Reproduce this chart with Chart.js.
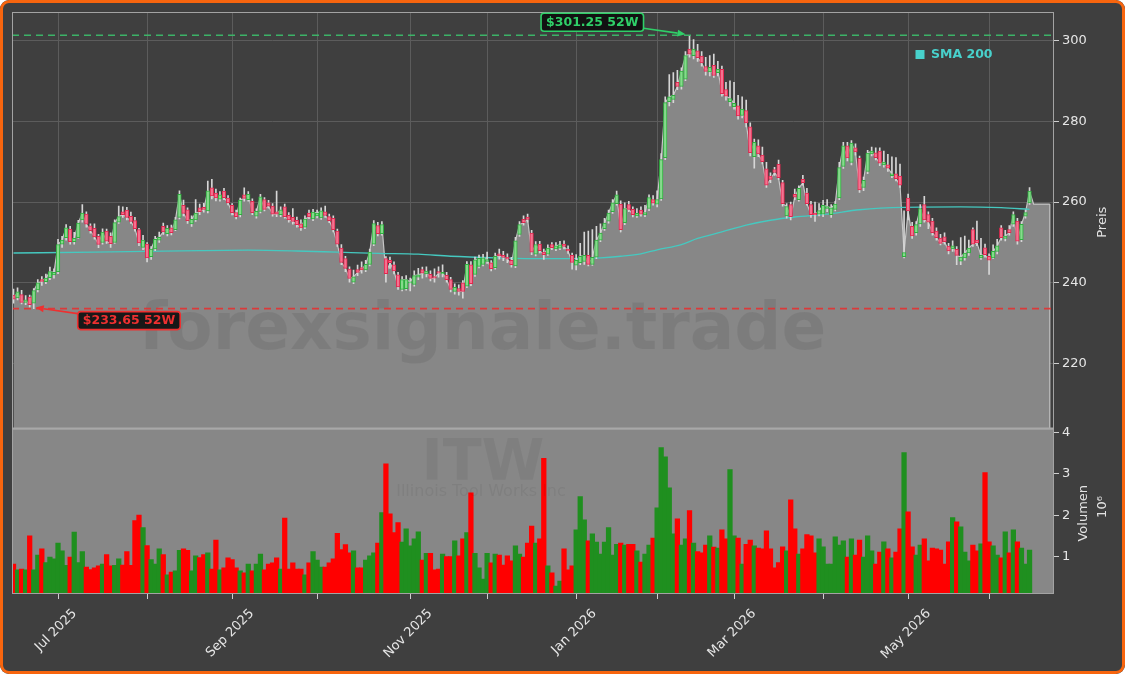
<!DOCTYPE html>
<html><head><meta charset="utf-8">
<script src="https://cdn.jsdelivr.net/npm/chart.js@4.4.1/dist/chart.umd.min.js"></script>
<style>
html,body{margin:0;padding:0;background:#ffffff;}
#wrap{position:relative;width:1125px;height:674px;border-radius:9px;overflow:hidden;}
#c{position:absolute;left:0;top:0;}
#frame{position:absolute;left:0;top:0;width:1125px;height:674px;box-sizing:border-box;border:3px solid #f8650e;border-radius:9px;pointer-events:none;}
</style></head><body>
<div id="wrap"><canvas id="c" width="1125" height="674"></canvas><div id="frame"></div></div>
<script>
// ---- data (one entry per trading day) ----
const opens = [
237.0,236.3,237.1,235.2,236.5,235.0,238.3,240.8,240.3,241.3,
242.0,242.8,249.6,251.2,253.3,250.2,251.2,255.6,257.0,254.1,
253.5,251.5,250.0,252.8,251.5,250.0,255.0,257.6,258.0,256.5,
255.4,253.2,248.8,249.6,246.5,248.4,250.6,254.0,252.2,253.6,
253.2,256.2,259.2,258.1,254.6,255.6,258.6,258.7,257.8,263.5,
262.2,260.7,262.7,261.0,259.2,257.4,256.9,261.8,260.6,260.2,
256.5,257.7,260.6,259.8,259.0,257.6,256.9,258.8,256.7,256.2,
255.5,254.6,253.8,257.3,255.8,256.6,256.1,257.6,256.4,256.0,
252.8,248.6,246.0,243.4,240.2,243.3,243.8,243.2,244.6,249.6,
254.2,252.2,246.0,245.6,244.5,242.0,238.4,238.6,240.0,239.6,
241.4,243.3,242.2,242.1,241.6,242.8,242.2,241.9,240.8,237.9,
238.6,240.0,239.2,244.5,242.1,244.1,244.6,245.3,245.0,243.8,
247.2,246.8,246.4,245.6,244.2,252.0,255.7,256.3,252.3,247.1,
249.6,247.6,247.1,249.5,248.4,248.6,249.6,248.3,246.8,244.4,
245.0,245.3,246.8,244.6,246.4,250.6,253.4,255.3,257.6,259.6,
259.5,254.9,259.4,258.2,256.6,258.0,256.8,258.4,260.6,259.5,
260.8,271.0,284.8,285.4,289.6,288.6,290.4,297.8,296.2,297.4,
296.1,293.5,292.2,293.8,292.0,292.8,287.8,284.8,283.6,283.8,
281.4,282.6,278.6,271.2,273.9,271.6,268.2,266.4,268.0,269.3,
264.8,256.6,259.4,261.9,260.6,265.6,262.2,259.4,257.2,257.0,
257.0,258.4,256.9,258.2,261.0,268.8,273.9,269.8,273.4,270.8,
263.6,267.6,271.9,272.2,272.6,269.2,269.2,266.5,267.0,266.4,
246.5,261.0,254.0,252.4,254.6,259.4,256.9,255.3,252.8,251.1,
251.4,249.1,248.4,248.3,245.4,246.2,247.4,253.2,250.6,246.2,
248.7,246.6,246.2,247.8,253.6,251.0,253.2,254.5,255.3,250.7,
256.5,259.8];
const highs = [
238.5,238.8,238.2,236.9,237.0,238.6,240.8,241.6,242.2,243.9,
243.5,250.8,251.5,254.4,254.0,252.5,255.5,259.4,257.6,254.6,
254.6,252.0,253.4,253.3,252.4,255.6,259.0,258.8,258.7,257.5,
256.2,253.5,251.8,250.0,249.0,251.5,252.6,254.8,254.2,254.3,
256.2,262.8,260.5,258.6,256.6,260.6,259.5,259.7,265.2,265.6,
263.2,262.6,263.4,261.6,259.6,258.0,261.0,263.5,262.6,260.8,
258.3,261.9,261.1,260.4,259.6,262.7,258.8,259.5,257.4,258.4,
256.3,255.6,256.6,258.0,258.2,258.0,258.6,259.0,257.0,256.6,
253.3,249.5,246.6,244.0,243.2,244.4,245.2,245.6,248.4,255.4,
255.0,255.2,246.5,246.4,245.2,242.6,241.6,241.8,241.2,243.0,
243.6,243.9,244.0,243.0,243.5,244.0,244.5,242.6,241.4,239.8,
239.5,240.6,245.3,245.3,246.4,246.9,247.1,247.6,245.5,247.4,
248.4,247.8,247.2,246.3,251.3,255.2,256.6,257.0,253.0,250.2,
250.3,248.4,249.4,250.0,250.0,250.3,250.4,249.2,247.4,247.0,
249.8,252.6,252.8,253.2,254.0,254.6,256.0,258.0,260.6,262.7,
260.3,259.8,260.2,258.8,258.4,258.8,259.2,261.8,261.6,262.8,
272.0,286.0,291.5,292.0,292.6,293.2,297.2,301.25,300.2,299.0,
297.2,295.8,296.2,296.6,294.8,293.6,289.6,290.0,289.6,286.4,
286.0,285.2,279.6,275.6,275.4,273.6,269.8,267.2,268.6,270.4,
265.4,259.6,260.0,263.2,264.0,266.6,263.4,260.2,260.0,259.6,
260.4,260.6,259.4,260.2,269.8,274.8,274.8,275.2,274.4,271.4,
266.2,272.8,273.6,273.4,273.4,272.6,271.8,271.2,271.0,269.4,
257.8,262.0,255.0,255.2,259.4,261.4,257.6,256.0,253.6,252.0,
252.4,249.8,250.4,249.0,251.2,251.6,250.6,253.6,255.3,251.0,
249.6,247.2,249.4,250.8,254.2,253.0,254.2,257.6,256.0,255.2,
258.0,263.6];
const lows = [
235.0,235.8,234.8,234.6,234.0,233.65,237.8,239.4,239.8,240.8,
241.2,242.3,248.8,250.6,249.6,249.6,251.0,255.0,253.8,252.3,
250.8,248.7,249.6,249.8,248.8,249.8,254.7,256.2,255.6,254.7,
252.8,249.2,248.2,245.2,245.8,248.0,250.0,252.0,251.6,251.9,
252.9,255.8,256.6,254.7,254.0,255.2,256.9,257.5,257.3,260.8,
260.3,260.2,260.6,259.3,256.8,255.8,256.3,260.2,260.2,256.9,
256.0,257.3,257.8,258.5,256.5,256.4,256.4,256.0,255.0,254.5,
253.8,253.0,253.4,255.9,255.4,256.1,255.7,256.2,254.9,252.6,
249.0,244.5,242.8,240.2,239.8,241.8,242.4,242.8,244.2,249.2,
251.6,251.8,240.2,243.6,242.2,238.4,238.0,238.2,238.0,239.2,
240.8,241.2,241.5,240.5,240.2,241.4,241.5,240.2,237.8,237.2,
237.0,236.2,238.8,239.3,241.6,243.7,244.2,244.8,243.0,243.4,
245.9,245.5,245.0,243.9,243.8,251.5,254.3,255.0,247.0,246.7,
247.4,245.8,246.8,248.2,248.0,248.2,248.4,247.3,243.4,243.2,
244.5,244.6,244.2,244.3,246.0,250.2,253.0,254.8,257.2,259.2,
252.6,254.4,257.6,256.3,256.2,256.5,256.4,257.9,259.2,258.8,
260.4,270.5,283.8,284.6,287.8,287.9,290.0,295.8,295.4,294.8,
293.6,291.4,291.2,290.8,291.2,286.2,285.2,283.8,283.0,280.5,
280.8,278.6,271.4,268.4,271.2,269.4,263.6,264.8,266.6,265.6,
259.0,256.0,255.6,260.6,260.2,264.2,259.2,256.2,255.2,256.6,
256.4,257.6,256.2,257.8,260.6,268.3,270.2,269.2,271.6,262.4,
262.8,267.0,271.4,270.4,269.0,268.6,267.6,266.0,265.2,263.6,
246.2,255.6,251.0,251.8,254.0,255.0,253.4,251.8,250.6,249.4,
249.6,247.2,247.8,244.5,244.5,245.6,246.8,249.0,249.2,245.8,
246.4,242.1,246.0,247.2,250.6,250.4,251.8,254.0,249.6,250.2,
256.0,259.4];
const closes = [
236.0,237.8,235.2,235.8,234.6,238.1,240.0,240.4,241.2,242.8,
242.6,249.5,250.6,253.6,250.2,251.0,254.8,257.3,254.5,252.9,
251.4,249.5,252.6,250.3,249.7,254.9,256.4,256.9,256.2,255.2,
253.4,249.9,250.6,246.2,248.4,250.8,251.3,252.6,253.5,252.4,
255.6,261.9,257.2,255.4,255.7,257.3,257.6,258.2,262.8,261.5,
261.0,261.8,261.1,259.8,257.4,256.4,260.5,260.9,261.9,257.4,
257.7,261.3,258.2,259.0,257.0,257.0,258.1,256.4,255.6,255.2,
254.4,253.6,255.8,256.3,257.5,257.3,257.8,256.7,255.4,253.2,
249.6,245.1,243.6,241.1,241.5,242.6,243.2,244.6,247.6,254.7,
252.2,254.4,242.3,245.0,243.0,239.0,240.8,240.8,240.3,241.8,
242.0,242.4,242.9,241.1,241.2,242.4,242.6,240.8,238.4,238.9,
237.9,237.9,244.6,239.8,245.7,246.1,246.2,245.8,243.5,246.6,
246.7,246.3,245.9,244.5,250.4,254.4,254.9,255.7,247.6,249.5,
248.0,247.0,248.6,248.7,249.2,249.4,249.0,247.9,245.1,245.6,
246.6,246.8,244.6,246.3,250.6,252.3,254.8,257.3,259.8,261.8,
253.2,258.4,258.2,256.9,257.2,257.0,257.4,261.1,259.7,260.6,
270.5,284.6,286.0,286.4,288.6,292.4,296.2,296.6,297.8,295.7,
294.4,292.3,293.3,291.3,292.8,286.8,286.2,285.6,284.4,281.3,
283.0,279.6,272.2,274.8,271.9,270.0,264.2,265.6,267.3,266.0,
259.6,258.9,256.4,261.2,263.4,264.8,259.6,256.9,256.8,257.9,
259.2,258.9,258.6,259.5,268.5,273.9,270.9,274.6,272.4,263.0,
265.4,272.1,272.6,271.0,269.6,269.9,268.4,267.0,265.8,264.2,
247.5,257.8,251.6,254.4,258.4,255.6,255.0,252.4,251.2,249.8,
250.2,247.9,249.2,246.8,246.4,247.4,248.6,249.6,249.9,246.8,
247.0,245.6,247.8,249.2,251.2,251.6,252.4,256.9,250.3,254.5,
257.4,262.7];
// volume in millions
const volumes = [
0.82,0.68,0.70,0.68,1.50,0.68,1.04,1.19,0.86,0.99,
0.95,1.33,1.14,0.79,0.99,1.59,0.86,1.12,0.75,0.69,
0.73,0.78,0.82,1.05,0.78,0.79,0.95,0.80,1.12,0.79,
1.87,2.00,1.70,1.27,0.93,0.82,1.19,1.05,0.56,0.63,
0.66,1.15,1.19,1.15,0.66,1.02,0.98,1.05,1.09,0.70,
1.40,0.68,0.73,0.97,0.93,0.73,0.66,0.61,0.82,0.66,
0.82,1.06,0.68,0.82,0.85,0.97,0.70,1.93,0.70,0.85,
0.70,0.70,0.56,0.85,1.12,0.92,0.75,0.75,0.85,0.95,
1.56,1.17,1.29,1.09,1.14,0.73,0.73,0.92,1.02,1.09,
1.33,2.06,
3.24,2.03,1.58,1.82,1.35,1.67,1.26,1.43,1.60,0.92,
1.08,1.08,0.68,0.70,1.06,1.00,1.00,1.38,1.02,1.43,
1.58,2.54,1.08,0.73,0.46,1.08,0.85,1.06,1.04,0.80,
1.02,0.90,1.26,1.06,0.99,1.33,1.74,1.33,1.43,3.37,
0.78,0.61,0.29,0.41,1.19,0.68,0.78,1.65,2.45,1.89,
1.38,1.55,1.35,1.06,1.35,1.70,1.04,1.30,1.33,1.28,
1.30,1.30,1.14,0.87,1.06,1.28,1.45,2.18,3.63,3.41,
2.66,1.55,1.91,1.28,1.43,2.11,1.33,1.12,1.09,1.28,
1.50,1.23,1.21,1.65,1.43,3.10,1.50,1.45,0.82,1.30,
1.40,1.26,1.21,
1.19,1.62,1.19,0.73,0.86,1.24,1.14,2.37,1.67,1.06,
1.19,1.53,1.50,1.09,1.43,1.24,0.82,0.82,1.48,1.28,
1.38,0.99,1.43,1.04,1.40,0.99,1.50,1.14,0.82,1.11,
1.36,1.19,0.97,1.11,1.67,3.51,2.08,1.24,1.04,1.28,
1.43,0.90,1.21,1.19,1.16,0.82,1.36,1.94,1.84,1.72,
1.11,0.90,1.28,1.14,1.31,3.03,1.36,1.26,1.04,0.97,
1.60,1.09,1.65,1.36,1.21,0.82,1.16];
// close-area tail after the last session
const areaTail = [259.5, 259.5, 259.5, 259.5, 259.5];
// SMA 200 readings (session index, value)
const smaIdx = [0, 20, 46, 58, 70, 80, 90, 100, 108, 120, 130, 137, 145, 150, 155, 159, 165, 169, 175, 181, 187, 193, 201, 209, 220, 234, 244, 251];
const smaVal = [247.4, 247.6, 248.0, 248.1, 247.9, 247.6, 247.3, 247.1, 246.6, 246.2, 246.0, 246.0, 246.2, 246.6, 247.2, 248.2, 249.5, 251.0, 252.6, 254.3, 255.5, 256.3, 257.0, 258.1, 258.7, 258.8, 258.6, 258.2];
// month ticks (session index of first trading day)
const monthTickIdx = [11, 33, 54, 75, 98, 117, 139, 159, 178, 200, 221, 241];
const monthTickLabels = ['Jul 2025', '', 'Sep 2025', '', 'Nov 2025', '', 'Jan 2026', '', 'Mar 2026', '', 'May 2026', ''];
const priceTicks = [220, 240, 260, 280, 300];
const volTicks = [1, 2, 3, 4];
const high52 = 301.25, high52Idx = 167;
const low52 = 233.65, low52Idx = 5;
const ticker = 'ITW', company = 'Illinois Tool Works Inc';

// ---- chart ----
const FAM = '"DejaVu Sans", sans-serif';
Chart.defaults.font.family = FAM;
const isUp = i => closes[i] >= opens[i];

const areaData = closes.map((c, i) => ({x: i, y: c}))
  .concat(areaTail.map((v, k) => ({x: closes.length + k, y: v})));
const smaData = smaIdx.map((ix, k) => ({x: ix, y: smaVal[k]}));
const wickData = highs.map((h, i) => ({x: i, y: [lows[i], h]}));
const bodyData = opens.map((o, i) => ({x: i, y: [o, closes[i]]}));
const volData = volumes.map((v, i) => ({x: i, y: v}));

function roundRect(ctx, x, y, w, h, r) {
  ctx.beginPath();
  ctx.moveTo(x + r, y); ctx.lineTo(x + w - r, y); ctx.quadraticCurveTo(x + w, y, x + w, y + r);
  ctx.lineTo(x + w, y + h - r); ctx.quadraticCurveTo(x + w, y + h, x + w - r, y + h);
  ctx.lineTo(x + r, y + h); ctx.quadraticCurveTo(x, y + h, x, y + h - r);
  ctx.lineTo(x, y + r); ctx.quadraticCurveTo(x, y, x + r, y); ctx.closePath();
}
function arrow(ctx, x1, y1, x2, y2, color) {
  const a = Math.atan2(y2 - y1, x2 - x1), hl = 8, hw = 3.5;
  const bx = x2 - hl * Math.cos(a), by = y2 - hl * Math.sin(a);
  ctx.strokeStyle = color; ctx.fillStyle = color; ctx.lineWidth = 1.6;
  ctx.beginPath(); ctx.moveTo(x1, y1); ctx.lineTo(bx, by); ctx.stroke();
  ctx.beginPath(); ctx.moveTo(x2, y2);
  ctx.lineTo(bx + hw * Math.sin(a), by - hw * Math.cos(a));
  ctx.lineTo(bx - hw * Math.sin(a), by + hw * Math.cos(a));
  ctx.closePath(); ctx.fill();
}
function tagBox(ctx, text, x, y, color, alignRight) {
  ctx.font = 'bold 12.5px ' + FAM;
  const w = ctx.measureText(text).width + 10, h = 18;
  const bx = alignRight ? x - w : x;
  roundRect(ctx, bx, y, w, h, 3);
  ctx.fillStyle = 'rgba(14,14,14,0.92)'; ctx.fill();
  ctx.lineWidth = 1.6; ctx.strokeStyle = color; ctx.stroke();
  ctx.fillStyle = color; ctx.textAlign = 'center'; ctx.textBaseline = 'middle';
  ctx.fillText(text, bx + w / 2, y + h / 2 + 0.5);
  return {x: bx, w: w};
}
function rotText(ctx, text, x, y) {
  ctx.save(); ctx.translate(x, y); ctx.rotate(-Math.PI / 2);
  ctx.textAlign = 'center'; ctx.textBaseline = 'middle'; ctx.fillText(text, 0, 0); ctx.restore();
}

const deco = {
  id: 'deco',
  beforeDraw(chart) {
    const c = chart.ctx;
    c.save(); c.fillStyle = '#3f3f3f'; c.fillRect(0, 0, chart.width, chart.height); c.restore();
  },
  beforeDatasetsDraw(chart) {
    const c = chart.ctx, ca = chart.chartArea, yv = chart.scales.yv;
    c.save(); c.fillStyle = '#878787'; c.fillRect(ca.left, yv.top, ca.right - ca.left, yv.bottom - yv.top); c.restore();
  },
  afterDatasetsDraw(chart) {
    const c = chart.ctx, ca = chart.chartArea, xs = chart.scales.x, yp = chart.scales.yp, yv = chart.scales.yv;
    c.save();
    // right edge of close area
    const ex = xs.getPixelForValue(closes.length + areaTail.length - 1);
    c.strokeStyle = '#c6c6c6'; c.lineWidth = 1.2;
    c.beginPath(); c.moveTo(ex, yp.getPixelForValue(areaTail[areaTail.length - 1])); c.lineTo(ex, yp.bottom); c.stroke();

    // watermarks
    c.textAlign = 'center'; c.textBaseline = 'alphabetic';
    c.fillStyle = 'rgba(0,0,0,0.075)';
    c.font = 'bold 66px ' + FAM;
    c.fillText('forexsignale.trade', 482.5, 348.5);
    c.fillStyle = 'rgba(0,0,0,0.06)';
    c.font = 'bold 57px ' + FAM;
    c.fillText(ticker, 483, 480);
    c.font = '16px ' + FAM;
    c.fillText(company, 481, 496);

    // 52W lines
    const hy = yp.getPixelForValue(high52), ly = yp.getPixelForValue(low52);
    c.setLineDash([7, 5]); c.lineWidth = 1.6;
    c.strokeStyle = 'rgba(60,185,105,0.95)';
    c.beginPath(); c.moveTo(ca.left, hy); c.lineTo(ca.right, hy); c.stroke();
    c.strokeStyle = 'rgba(228,50,50,0.9)';
    c.beginPath(); c.moveTo(ca.left, ly); c.lineTo(ca.right, ly); c.stroke();
    c.setLineDash([]);

    // spines
    c.strokeStyle = '#a3a3a3'; c.lineWidth = 1;
    c.strokeRect(ca.left + 0.5, yp.top + 0.5, ca.right - ca.left - 1, yp.bottom - yp.top);
    c.strokeRect(ca.left + 0.5, yv.top, ca.right - ca.left - 1, yv.bottom - yv.top - 0.5);
    c.lineWidth = 2; c.strokeStyle = '#a8a8a8';
    c.beginPath(); c.moveTo(ca.left, yp.bottom); c.lineTo(ca.right, yp.bottom); c.stroke();

    // 52W tags
    const hx = xs.getPixelForValue(high52Idx);
    const gCol = '#2fcf68';
    const hb = tagBox(c, '$' + high52.toFixed(2) + ' 52W', hx - 46, hy - 22, gCol, true);
    arrow(c, hb.x + hb.w, hy - 7, hx - 4, hy - 1, gCol);
    const lx = xs.getPixelForValue(low52Idx);
    const rCol = '#ee3030';
    const lb = tagBox(c, '$' + low52.toFixed(2) + ' 52W', lx + 44, ly + 3, rCol, false);
    arrow(c, lb.x, ly + 5, lx + 2, ly - 1, rCol);

    // SMA legend
    c.fillStyle = '#48d1cc';
    c.fillRect(915.5, 50, 9, 9);
    c.font = 'bold 12.5px ' + FAM; c.textAlign = 'left'; c.textBaseline = 'middle';
    c.fillText('SMA 200', 931, 55);

    // axis titles
    c.fillStyle = '#e2e2e2'; c.font = '13px ' + FAM;
    rotText(c, 'Preis', 1102.5, (yp.top + yp.bottom) / 2 + 2);
    rotText(c, 'Volumen', 1084, (yv.top + yv.bottom) / 2 + 2);
    rotText(c, '10\u2076', 1103, 507);

    // x tick labels (rotated 45°, centred on tick)
    c.fillStyle = '#e6e6e6'; c.font = '13px ' + FAM;
    monthTickIdx.forEach((v, k) => {
      const lab = monthTickLabels[k];
      if (!lab) return;
      const px = xs.getPixelForValue(v);
      const w = c.measureText(lab).width;
      const bb = (w + 13) * Math.SQRT1_2;
      c.save();
      c.translate(px - 2, ca.bottom + 13 + bb / 2);
      c.rotate(-Math.PI / 4);
      c.textAlign = 'center'; c.textBaseline = 'middle';
      c.fillText(lab, 0, 0);
      c.restore();
    });
    c.restore();
  }
};

new Chart(document.getElementById('c').getContext('2d'), {
  type: 'bar',
  data: {
    datasets: [
      {type: 'bar', label: 'Volumen', data: volData, xAxisID: 'x', yAxisID: 'yv',
       backgroundColor: volumes.map((v, i) => isUp(i) ? '#1f8f1f' : '#ff0000'),
       barThickness: 4.6, grouped: false, borderWidth: 0, order: 6},
      {type: 'line', label: 'Close', data: areaData, xAxisID: 'x', yAxisID: 'yp', fill: 'start',
       backgroundColor: '#878787', borderColor: '#c6c6c6', borderWidth: 1.2, pointRadius: 0, tension: 0, order: 5},
      {type: 'line', label: 'SMA 200', data: smaData, xAxisID: 'x', yAxisID: 'yp', fill: false,
       borderColor: '#45c9c0', borderWidth: 1.3, pointRadius: 0, cubicInterpolationMode: 'monotone', order: 4},
      {type: 'bar', label: 'wick', data: wickData, xAxisID: 'x', yAxisID: 'yp',
       backgroundColor: '#d6d6d6', barThickness: 1, grouped: false, borderWidth: 0, order: 3},
      {type: 'bar', label: 'body', data: bodyData, xAxisID: 'x', yAxisID: 'yp',
       backgroundColor: closes.map((cl, i) => isUp(i) ? '#86da8c' : '#f57290'),
       borderColor: closes.map((cl, i) => isUp(i) ? '#2fae3f' : '#e0284f'),
       borderWidth: 1, borderSkipped: false, barThickness: 3.6, grouped: false, minBarLength: 1, order: 2}
    ]
  },
  options: {
    responsive: false, animation: false, devicePixelRatio: 1,
    layout: {padding: {left: 12, top: 12, right: 0, bottom: 0}},
    plugins: {legend: {display: false}, tooltip: {enabled: false}},
    scales: {
      x: {type: 'linear', position: 'bottom', min: -0.37, max: 257.04, offset: false,
          afterBuildTicks: s => { s.ticks = monthTickIdx.map(v => ({value: v})); },
          ticks: {display: false},
          grid: {offset: false, color: '#5c5c5c', tickColor: '#cfcfcf', tickLength: 5, lineWidth: 1},
          border: {display: false},
          afterFit: s => { s.height = 80; }},
      yp: {type: 'linear', position: 'right', stack: 'main', stackWeight: 416.5, min: 204, max: 307,
           afterBuildTicks: s => { s.ticks = priceTicks.map(v => ({value: v})); },
           ticks: {color: '#e6e6e6', font: {size: 13}, padding: 3},
           grid: {color: '#5c5c5c', tickColor: '#cfcfcf', tickLength: 5},
           border: {display: false},
           afterFit: s => { s.width = 71; }},
      yv: {type: 'linear', position: 'right', stack: 'main', stackWeight: 165.5, min: 0.1, max: 4.09,
           afterBuildTicks: s => { s.ticks = volTicks.map(v => ({value: v})); },
           ticks: {color: '#e6e6e6', font: {size: 13}, padding: 3},
           grid: {drawOnChartArea: false, tickColor: '#cfcfcf', tickLength: 5},
           border: {display: false},
           afterFit: s => { s.width = 71; }}
    }
  },
  plugins: [deco]
});
</script>
</body></html>
